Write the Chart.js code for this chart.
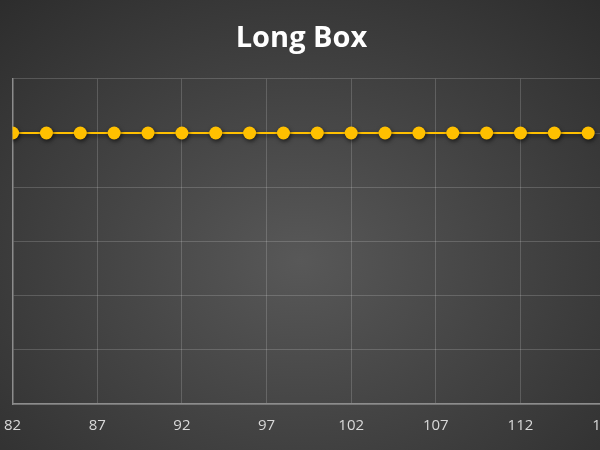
<!DOCTYPE html>
<html>
<head>
<meta charset="utf-8">
<script src="https://cdn.jsdelivr.net/npm/chart.js@4/dist/chart.umd.min.js"></script>
<style>
  html, body { margin: 0; padding: 0; width: 600px; height: 450px; overflow: hidden; }
  body { background: radial-gradient(ellipse 75% 80% at 50% 58%, #585858 0%, #444 45%, #2c2c2c 100%); }
  #wrap { position: absolute; left: -9px; top: 0; width: 640px; height: 450px; }
</style>
</head>
<body>
<div id="wrap"><canvas id="chart" width="640" height="450"></canvas></div>
<script>
// values
var xValues = [82, 84, 86, 88, 90, 92, 94, 96, 98, 100, 102, 104, 106, 108, 110, 112, 114, 116];
var yValues = [1, 1, 1, 1, 1, 1, 1, 1, 1, 1, 1, 1, 1, 1, 1, 1, 1, 1];
var chartTitle = 'Long Box';

var points = xValues.map(function (x, i) { return { x: x, y: yValues[i] }; });

// drop shadow under the line and markers
var shadowPlugin = {
  id: 'shadow',
  beforeDatasetDraw: function (chart) {
    var ctx = chart.ctx;
    ctx.save();
    ctx.shadowColor = 'rgba(0,0,0,0.6)';
    ctx.shadowBlur = 4;
    ctx.shadowOffsetX = 1;
    ctx.shadowOffsetY = 2;
  },
  afterDatasetDraw: function (chart) {
    chart.ctx.restore();
  }
};

var ctx = document.getElementById('chart').getContext('2d');
var chart = new Chart(ctx, {
  type: 'line',
  data: {
    datasets: [{
      data: points,
      borderColor: '#FFC000',
      backgroundColor: '#FFC000',
      borderWidth: 2,
      pointRadius: 6.5,
      pointHoverRadius: 6.5,
      pointBorderWidth: 0,
      pointBackgroundColor: '#FFC000'
    }]
  },
  options: {
    responsive: false,
    animation: false,
    layout: { padding: { left: 6, right: 25, top: 0, bottom: 2 } },
    plugins: {
      legend: { display: false },
      tooltip: { enabled: false },
      title: {
        display: true,
        text: chartTitle,
        color: '#ffffff',
        font: { family: 'Open Sans', size: 29, weight: 'bold' },
        padding: { top: 21, bottom: 23 }
      }
    },
    scales: {
      x: {
        type: 'linear',
        min: 82,
        max: 117,
        ticks: { stepSize: 5, color: '#d9d9d9', font: { family: 'Open Sans', size: 15 }, padding: 13 },
        grid: { color: 'rgba(255,255,255,0.17)', drawTicks: false },
        border: { color: '#8c8c8c', width: 1.5 }
      },
      y: {
        min: 0,
        max: 1.2,
        ticks: { stepSize: 0.2, display: false },
        grid: { color: 'rgba(255,255,255,0.17)', drawTicks: false },
        border: { color: '#8c8c8c', width: 1.5 }
      }
    }
  },
  plugins: [shadowPlugin]
});
</script>
</body>
</html>
